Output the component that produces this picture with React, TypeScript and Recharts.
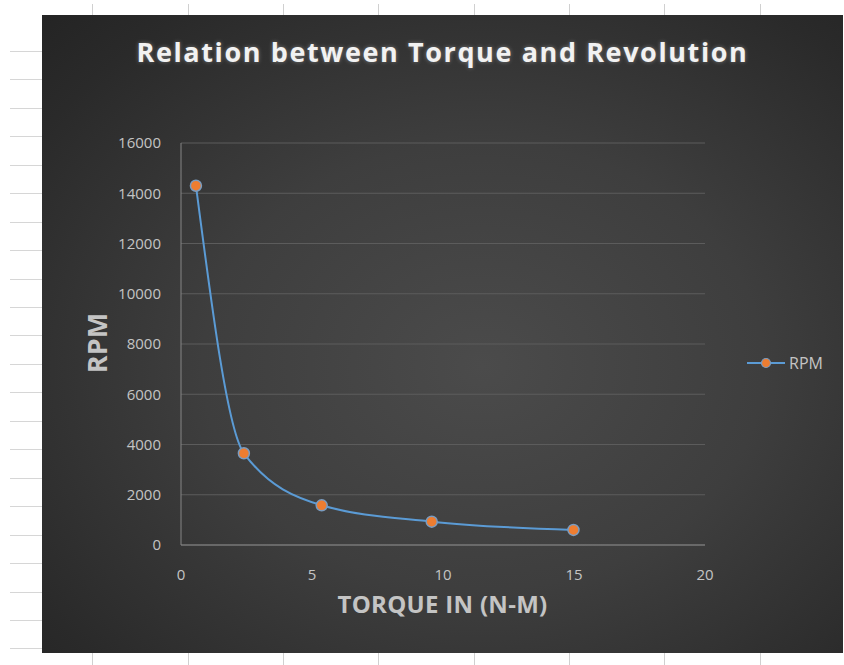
import { LineChart, Line, XAxis, YAxis, CartesianGrid, Legend } from "recharts";

// torque (N-M) vs speed (RPM)
const torque = [0.57, 2.4, 5.37, 9.57, 14.98];
const rpm = [14300, 3650, 1580, 930, 600];

const xTicks = [0, 5, 10, 15, 20];
const yTicks = [0, 2000, 4000, 6000, 8000, 10000, 12000, 14000, 16000];

const data = torque.map((t, i) => ({ torque: t, RPM: rpm[i] }));

const FONT = "'Open Sans', sans-serif";
const TICK = { fill: "#c4c4c4", fontSize: 15, fontFamily: FONT };

const LegendBox = () => (
  <div style={{ display: "flex", alignItems: "center", fontFamily: FONT, fontSize: 16, color: "#c4c4c4" }}>
    <svg width={40} height={14}>
      <line x1={1} y1={7} x2={39} y2={7} stroke="#5b9bd5" strokeWidth={2} />
      <circle cx={20} cy={7} r={4.5} fill="#ed7d31" stroke="#7a9cc0" strokeWidth={1.2} />
    </svg>
    <span style={{ marginLeft: 3 }}>RPM</span>
  </div>
);

export default function App() {
  return (
    <div style={{ position: "absolute", left: 0, top: 0, width: 844, height: 665, background: "#fff", overflow: "hidden" }}>
      {/* spreadsheet cell lines around the chart */}
      <div
        style={{
          position: "absolute", left: 10, top: 0, width: 32, height: 665,
          background:
            "repeating-linear-gradient(to bottom, transparent 0px, transparent 22.5px, #d6d6d6 22.5px, #d6d6d6 23.5px, transparent 23.5px, transparent 28.45px)",
        }}
      />
      <div
        style={{
          position: "absolute", left: 0, top: 4, width: 844, height: 11,
          background:
            "repeating-linear-gradient(to right, transparent 0px, transparent 92.5px, #d0d0d0 92.5px, #d0d0d0 93.5px, transparent 93.5px, transparent 95.3px)",
        }}
      />
      <div
        style={{
          position: "absolute", left: 0, top: 653, width: 844, height: 12,
          background:
            "repeating-linear-gradient(to right, transparent 0px, transparent 92.5px, #d0d0d0 92.5px, #d0d0d0 93.5px, transparent 93.5px, transparent 95.3px)",
        }}
      />

      <div
        style={{
          position: "absolute", left: 42, top: 15, width: 801, height: 638,
          background: "radial-gradient(ellipse at 55% 55%, #4b4b4b 0%, #3e3e3e 45%, #2a2a2a 85%, #242424 100%)",
        }}
      >
        <div
          style={{
            position: "absolute", left: 0, top: 18, width: 801, textAlign: "center",
            fontFamily: FONT, fontWeight: 700, fontSize: 27, color: "#f2f2f2",
            letterSpacing: 1.6, textShadow: "0 0 4px rgba(255,255,255,0.35)",
          }}
        >
          Relation between Torque and Revolution
        </div>
        <div
          style={{
            position: "absolute", left: 54, top: 328, transform: "translate(-50%, -50%) rotate(-90deg)",
            fontFamily: FONT, fontWeight: 700, fontSize: 27, color: "#c4c4c4", whiteSpace: "nowrap",
          }}
        >
          RPM
        </div>
        <div
          style={{
            position: "absolute", left: 0, top: 572, width: 801, textAlign: "center",
            fontFamily: FONT, fontWeight: 700, fontSize: 24, letterSpacing: 0.3, color: "#c4c4c4",
          }}
        >
          TORQUE IN (N-M)
        </div>

        <LineChart width={801} height={638} data={data} margin={{ top: 128, right: 138, bottom: 0, left: 0 }}>
          <CartesianGrid horizontal vertical={false} stroke="#5c5c5c" strokeWidth={1} />
          <XAxis
            type="number"
            dataKey="torque"
            domain={[0, 20]}
            ticks={xTicks}
            height={108}
            stroke="#868686"
            tickLine={false}
            tickMargin={18}
            tick={TICK}
          />
          <YAxis
            type="number"
            domain={[0, 16000]}
            ticks={yTicks}
            width={139}
            stroke="#868686"
            tickLine={false}
            tickMargin={14}
            tick={TICK}
          />
          <Legend
            layout="vertical"
            align="center"
            verticalAlign="middle"
            wrapperStyle={{ left: 704, top: 337, width: 90 }}
            content={() => <LegendBox />}
          />
          <Line
            type="monotone"
            dataKey="RPM"
            stroke="#5b9bd5"
            strokeWidth={2}
            dot={{ r: 5.5, fill: "#ed7d31", stroke: "#7a9cc0", strokeWidth: 1.5 }}
            isAnimationActive={false}
          />
        </LineChart>
      </div>
    </div>
  );
}
